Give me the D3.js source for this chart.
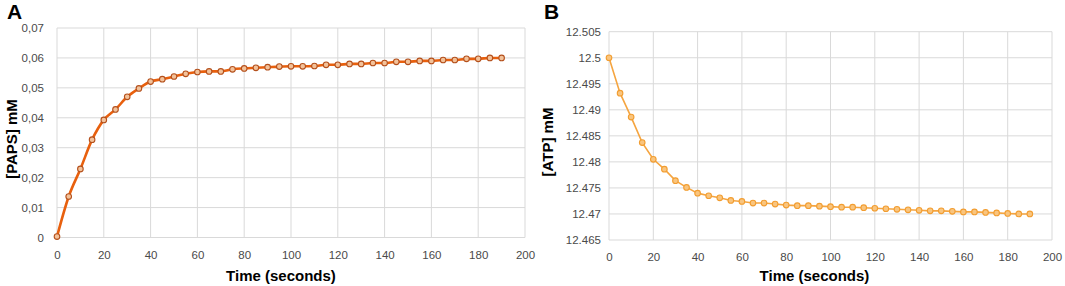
<!DOCTYPE html>
<html>
<head>
<meta charset="utf-8">
<script src="https://cdn.jsdelivr.net/npm/d3@7"></script>
<style>
  body { margin: 0; background: #fff; }
  svg { font-family: "Liberation Sans", Arial, sans-serif; }
  .grid line { stroke: #d9d9d9; stroke-width: 1; }
  .tick text { fill: #4a4a4a; font-size: 11.5px; }
</style>
</head>
<body>
<div id="chart"></div>
<script>
// Time points (seconds), shared by both panels
const times = d3.range(0, 195, 5);

// Panel A: [PAPS] mM
const papsValues = [0.0003, 0.0137, 0.0229, 0.0327, 0.0393, 0.0428, 0.0470, 0.0498, 0.0521, 0.0529,
    0.0538, 0.0547, 0.0553, 0.0555, 0.0555, 0.0562, 0.0565, 0.0567, 0.0569, 0.0571,
    0.0572, 0.0572, 0.0573, 0.0577, 0.0577, 0.0580, 0.0580, 0.0583, 0.0583, 0.0587,
    0.0587, 0.0590, 0.0590, 0.0593, 0.0593, 0.0597, 0.0597, 0.0600, 0.0600];

// Panel B: [ATP] mM
const atpValues = [12.5, 12.4932, 12.4886, 12.4837, 12.4805, 12.4786, 12.4764, 12.4751, 12.4740, 12.4735,
    12.4731, 12.4726, 12.4724, 12.4721, 12.4721, 12.4719, 12.4717, 12.4716, 12.4716, 12.4715,
    12.4714, 12.4713, 12.4713, 12.4712, 12.4711, 12.4710, 12.4709, 12.4708, 12.4707, 12.4706,
    12.4706, 12.4705, 12.4704, 12.4704, 12.4703, 12.4702, 12.4701, 12.4700, 12.4700];

const xTicks = d3.range(0, 220, 20);
const papsTicks = [0, 0.01, 0.02, 0.03, 0.04, 0.05, 0.06, 0.07];
const atpTicks = [12.465, 12.47, 12.475, 12.48, 12.485, 12.49, 12.495, 12.5, 12.505];

const svg = d3.select("#chart").append("svg")
    .attr("width", 1065)
    .attr("height", 286);

// draws one panel
function drawPanel(opts) {
    const x = d3.scaleLinear().domain([0, 200]).range([opts.left, opts.right]);
    const y = d3.scaleLinear().domain(opts.yDomain).range([opts.bottom, opts.top]);
    const g = svg.append("g");

    // gridlines
    g.append("g").attr("class", "grid")
        .selectAll("line").data(xTicks).enter().append("line")
        .attr("x1", d => x(d)).attr("x2", d => x(d))
        .attr("y1", opts.top).attr("y2", opts.bottom);
    g.append("g").attr("class", "grid")
        .selectAll("line").data(opts.yTicks).enter().append("line")
        .attr("x1", opts.left).attr("x2", opts.right)
        .attr("y1", d => y(d)).attr("y2", d => y(d));

    // axes (labels only)
    const xAxis = g.append("g")
        .attr("transform", "translate(0," + opts.bottom + ")")
        .call(d3.axisBottom(x).tickValues(xTicks).tickSize(0).tickPadding(13));
    xAxis.select(".domain").remove();

    const yAxis = g.append("g")
        .attr("transform", "translate(" + opts.left + ",0)")
        .call(d3.axisLeft(y).tickValues(opts.yTicks).tickSize(0).tickPadding(opts.yPad).tickFormat(opts.yFormat));
    yAxis.select(".domain").remove();

    const data = times.map((t, i) => ({ t: t, v: opts.values[i] }));

    g.append("path")
        .datum(data)
        .attr("fill", "none")
        .attr("stroke", opts.lineColor)
        .attr("stroke-width", opts.lineWidth)
        .attr("d", d3.line().x(d => x(d.t)).y(d => y(d.v)).curve(opts.curve));

    g.selectAll(".dot")
        .data(data)
        .enter().append("circle")
        .attr("class", "dot")
        .attr("cx", d => x(d.t))
        .attr("cy", d => y(d.v))
        .attr("r", 2.8)
        .attr("fill", opts.dotFill)
        .attr("stroke", opts.dotStroke)
        .attr("stroke-width", 1.1);

    // axis titles
    g.append("text")
        .attr("x", (opts.left + opts.right) / 2 - opts.xTitleShift)
        .attr("y", 281)
        .attr("text-anchor", "middle")
        .style("font-size", "15px")
        .style("font-weight", "bold")
        .text("Time (seconds)");

    g.append("text")
        .attr("transform", "translate(" + opts.yTitleX + "," + opts.yTitleY + ") rotate(-90)")
        .attr("text-anchor", "middle")
        .style("font-size", "15px")
        .style("font-weight", "bold")
        .text(opts.yTitle);

    // panel letter
    g.append("text")
        .attr("x", opts.letterX)
        .attr("y", 19)
        .style("font-size", "21px")
        .style("font-weight", "bold")
        .text(opts.letter);
}

drawPanel({
    left: 57, right: 525, top: 28, bottom: 237.5,
    yDomain: [0, 0.07], yTicks: papsTicks,
    yFormat: d => d === 0 ? "0" : d3.format(".2f")(d).replace(".", ","),
    yPad: 13,
    values: papsValues,
    lineColor: "#e8600e", lineWidth: 2.6, curve: d3.curveMonotoneX,
    dotFill: "#f3c29a", dotStroke: "#b4501c",
    yTitle: "[PAPS] mM", yTitleX: 17, yTitleY: 139,
    xTitleShift: 10,
    letter: "A", letterX: 7
});

drawPanel({
    left: 609, right: 1052, top: 31.7, bottom: 240,
    yDomain: [12.465, 12.505], yTicks: atpTicks,
    yFormat: d => d3.format("")(+d.toFixed(3)),
    yPad: 8,
    values: atpValues,
    lineColor: "#f5a540", lineWidth: 1.6, curve: d3.curveLinear,
    dotFill: "#f9c57f", dotStroke: "#f29d30",
    yTitle: "[ATP] mM", yTitleX: 553, yTitleY: 142,
    xTitleShift: 16,
    letter: "B", letterX: 544
});
</script>
</body>
</html>
